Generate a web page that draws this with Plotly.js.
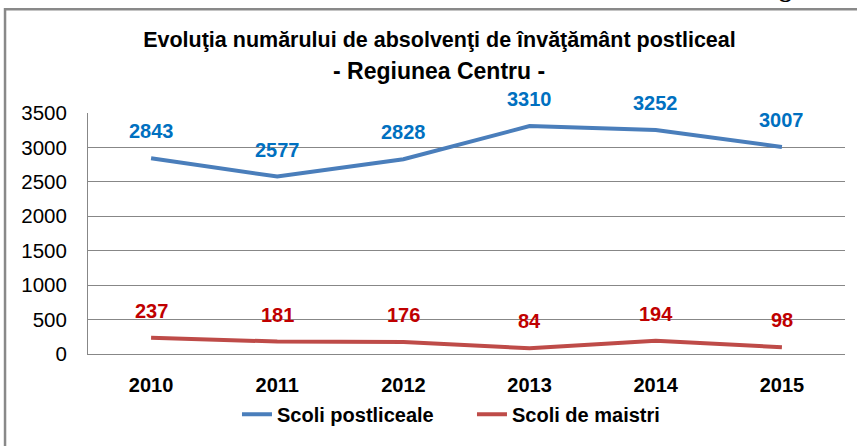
<!DOCTYPE html>
<html>
<head>
<meta charset="utf-8">
<script src="https://cdn.plot.ly/plotly-3.0.1.min.js"></script>
<style>html,body{margin:0;padding:0;background:#fff;}#chart{width:857px;height:446px;}</style>
</head>
<body>
<div id="chart"></div>
<script>
var years = ['2010', '2011', '2012', '2013', '2014', '2015'];
var postliceale = [2843, 2577, 2828, 3310, 3252, 3007];
var maistri = [237, 181, 176, 84, 194, 98];
var seriesNames = ['Scoli postliceale', 'Scoli de maistri'];
var yTicks = [0, 500, 1000, 1500, 2000, 2500, 3000, 3500];

var FONT = '"Liberation Sans", Arial, sans-serif';
var lineColors = ['#4A7EBB', '#BE4B48'];
var labelColors = ['#0070C0', '#C00000'];

var traces = [
  {x: years, y: postliceale, name: seriesNames[0], type: 'scatter', mode: 'lines',
   line: {color: lineColors[0], width: 4}},
  {x: years, y: maistri, name: seriesNames[1], type: 'scatter', mode: 'lines',
   line: {color: lineColors[1], width: 4}}
];

var annotations = [];
[postliceale, maistri].forEach(function (vals, s) {
  vals.forEach(function (v, i) {
    annotations.push({x: i, y: v, xref: 'x', yref: 'y', text: '<b>' + v + '</b>',
      showarrow: false, yshift: 27, xanchor: 'center', yanchor: 'middle',
      font: {family: FONT, size: 20, color: labelColors[s]}});
  });
});
annotations.push({xref: 'paper', yref: 'paper', x: 0.4643, y: 1.176, xanchor: 'center', yanchor: 'middle',
  text: '<b>- Regiunea Centru -</b>', showarrow: false,
  font: {family: FONT, size: 23, color: '#000'}});
annotations.push({xref: 'paper', yref: 'paper', x: 1.0066, y: 1.452, xanchor: 'right', yanchor: 'bottom',
  text: '<b>Fig. 5.20</b>', showarrow: false,
  font: {family: '"Liberation Serif", serif', size: 25, color: '#000'}});

var layout = {
  width: 857, height: 446,
  margin: {l: 88, r: 12, t: 113, b: 89},
  paper_bgcolor: '#fff', plot_bgcolor: '#fff',
  title: {text: '<b>Evoluţia numărului de absolvenţi de învăţământ postliceal</b>',
    xref: 'paper', x: 0.4643, xanchor: 'center',
    yref: 'container', y: 1 - 39 / 446, yanchor: 'middle',
    font: {family: FONT, size: 21.5, color: '#000'}},
  xaxis: {type: 'category', range: [-0.5, 5.5], showgrid: false, showline: true,
    linecolor: '#878787', linewidth: 1, ticks: '', ticklabelstandoff: 13,
    tickfont: {family: FONT, size: 20, color: '#000', weight: 'bold'}},
  yaxis: {range: [0, 3500], tickvals: yTicks, showgrid: true, gridcolor: '#878787', gridwidth: 1,
    showline: true, linecolor: '#878787', linewidth: 1, ticks: '', ticklabelstandoff: 16,
    zeroline: false, tickfont: {family: FONT, size: 20.5, color: '#000'}},
  showlegend: true,
  legend: {orientation: 'h', xref: 'paper', yref: 'paper', x: 0.1968, xanchor: 'left',
    y: -0.25, yanchor: 'middle', font: {family: FONT, size: 20, color: '#000', weight: 'bold'},
    entrywidth: 190, entrywidthmode: 'pixels', bgcolor: 'rgba(0,0,0,0)'},
  annotations: annotations,
  shapes: [{type: 'rect', xref: 'paper', yref: 'paper', x0: -0.1096, x1: 1.05, y0: -0.45, y1: 1.4303,
    line: {color: '#898989', width: 2.5}, fillcolor: 'rgba(0,0,0,0)', layer: 'below'}]
};

Plotly.newPlot('chart', traces, layout, {displayModeBar: false, staticPlot: true});
</script>
</body>
</html>
